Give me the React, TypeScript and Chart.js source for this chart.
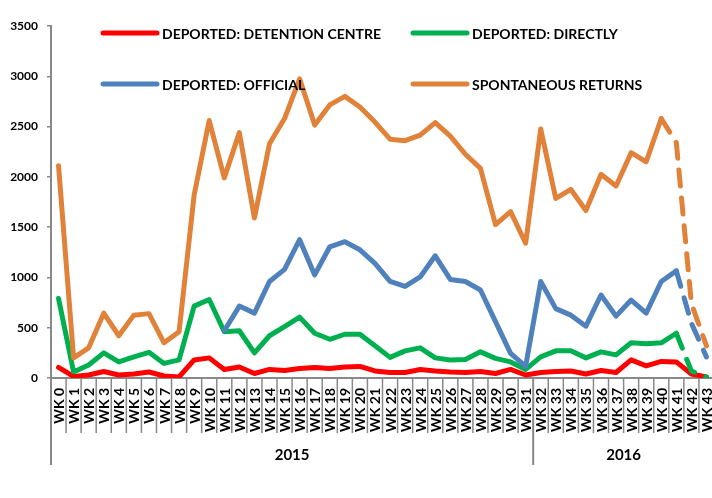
import React, { useEffect, useRef } from "react";
import { Chart, registerables } from "chart.js";

Chart.register(...registerables);

const weeks = [
  "WK 0", "WK 1", "WK 2", "WK 3", "WK 4", "WK 5", "WK 6", "WK 7", "WK 8", "WK 9",
  "WK 10", "WK 11", "WK 12", "WK 13", "WK 14", "WK 15", "WK 16", "WK 17", "WK 18", "WK 19",
  "WK 20", "WK 21", "WK 22", "WK 23", "WK 24", "WK 25", "WK 26", "WK 27", "WK 28", "WK 29",
  "WK 30", "WK 31", "WK 32", "WK 33", "WK 34", "WK 35", "WK 36", "WK 37", "WK 38", "WK 39",
  "WK 40", "WK 41", "WK 42", "WK 43",
];

const years = ["2015", "2016"];
const yearStarts = [0, 32];

const seriesNames = [
  "DEPORTED: DETENTION CENTRE",
  "DEPORTED: DIRECTLY",
  "DEPORTED: OFFICIAL",
  "SPONTANEOUS RETURNS",
];

const detentionCentre = [
  105, 15, 30, 65, 30, 40, 60, 20, 10, 180,
  200, 85, 110, 45, 85, 75, 95, 105, 95, 110,
  115, 70, 55, 55, 85, 70, 60, 55, 65, 45,
  85, 30, 55, 65, 70, 40, 75, 55, 180, 120,
  165, 160, 40, 10,
];

const directly = [
  790, 60, 130, 250, 160, 210, 255, 145, 180, 715,
  780, 460, 470, 250, 420, 510, 605, 445, 385, 435,
  435, 320, 205, 270, 300, 200, 180, 185, 260, 195,
  160, 85, 210, 270, 270, 200, 260, 230, 350, 340,
  350, 445, 70, 10,
];

const official = [
  null, null, null, null, null, null, null, null, null, null,
  null, 470, 715, 645, 960, 1080, 1375, 1025, 1305, 1355,
  1275, 1140, 960, 910, 1005, 1215, 980, 960, 875, 560,
  245, 115, 960, 690, 625, 515, 825, 615, 775, 645,
  960, 1065, 545, 210,
];

const spontaneous = [
  2110, 200, 300, 645, 420, 625, 640, 350, 460, 1820,
  2560, 1990, 2440, 1590, 2330, 2580, 2975, 2515, 2715, 2800,
  2695, 2545, 2375, 2360, 2415, 2540, 2405, 2225, 2085, 1525,
  1655, 1340, 2475, 1785, 1875, 1665, 2025, 1910, 2240, 2150,
  2580, 2340, 740, 320,
];

const yTicks = { min: 0, max: 3500, step: 500 };

const FONT = "Lato, 'Liberation Sans', sans-serif";
const AXIS = "#898989";
const COLORS = ["#FF0000", "#00B050", "#4F81BD", "#E0823A"];
const DASH = [16, 12];

const excelAxisPlugin = {
  id: "excelAxis",
  beforeDatasetsDraw(chart: any) {
    const { ctx, chartArea, scales } = chart;
    const x = scales.x;
    const bottom = chartArea.bottom;
    const step = x.getPixelForValue(1) - x.getPixelForValue(0);
    const edge = (i: number) => x.getPixelForValue(0) - step / 2 + i * step;
    ctx.save();
    ctx.strokeStyle = AXIS;
    ctx.lineWidth = 2;
    ctx.beginPath();
    ctx.moveTo(chartArea.left, bottom);
    ctx.lineTo(chartArea.right, bottom);
    ctx.stroke();
    for (let i = 0; i <= weeks.length; i++) {
      const px = edge(i);
      const isGroup = i === 0 || i === weeks.length || yearStarts.includes(i);
      ctx.lineWidth = isGroup ? 2 : 1.5;
      ctx.beginPath();
      ctx.moveTo(px, bottom);
      ctx.lineTo(px, bottom + (isGroup ? 87 : 55));
      ctx.stroke();
    }
    ctx.fillStyle = "#000";
    ctx.font = `bold 14px ${FONT}`;
    ctx.textAlign = "right";
    ctx.textBaseline = "middle";
    weeks.forEach((w, i) => {
      const px = x.getPixelForValue(i) + 1;
      ctx.save();
      ctx.translate(px, bottom + 10);
      ctx.rotate(-Math.PI / 2);
      ctx.fillText(w, 0, 0);
      ctx.restore();
    });
    ctx.font = `bold 15px ${FONT}`;
    ctx.textAlign = "center";
    years.forEach((yr, g) => {
      const s = yearStarts[g];
      const e = g + 1 < yearStarts.length ? yearStarts[g + 1] : weeks.length;
      const cx = (edge(s) + edge(e)) / 2;
      ctx.fillText(yr, cx, bottom + 77);
    });
    ctx.restore();
  },
  afterDatasetsDraw(chart: any) {
    const { ctx } = chart;
    const colX = [103, 413];
    const rowY = [33, 84];
    ctx.save();
    ctx.font = `bold 14px ${FONT}`;
    ctx.textAlign = "left";
    ctx.textBaseline = "middle";
    seriesNames.forEach((name, i) => {
      const lx = colX[i % 2];
      const ly = rowY[Math.floor(i / 2)];
      ctx.strokeStyle = COLORS[i];
      ctx.lineWidth = 5;
      ctx.lineCap = "round";
      ctx.beginPath();
      ctx.moveTo(lx, ly);
      ctx.lineTo(lx + 54, ly);
      ctx.stroke();
      ctx.fillStyle = "#000";
      ctx.fillText(name, lx + 59, ly + 1);
    });
    ctx.restore();
  },
};

function makeDataset(label: string, data: any[], color: string, dashFrom: number, order: number) {
  return {
    label,
    data,
    borderColor: color,
    backgroundColor: color,
    borderWidth: 5,
    borderJoinStyle: "round" as const,
    borderCapStyle: "round" as const,
    pointRadius: 0,
    tension: 0,
    fill: false,
    order,
    segment: {
      borderDash: (c: any) => (dashFrom >= 0 && c.p0DataIndex >= dashFrom ? DASH : undefined),
    },
  };
}

export default function App() {
  const ref = useRef<HTMLCanvasElement>(null);
  useEffect(() => {
    if (!ref.current) return;
    const chart = new Chart(ref.current, {
      type: "line",
      data: {
        labels: weeks,
        datasets: [
          makeDataset(seriesNames[0], detentionCentre, COLORS[0], -1, 3),
          makeDataset(seriesNames[1], directly, COLORS[1], 41, 2),
          makeDataset(seriesNames[2], official, COLORS[2], 41, 1),
          makeDataset(seriesNames[3], spontaneous, COLORS[3], 40, 0),
        ],
      },
      options: {
        responsive: false,
        animation: false,
        layout: { padding: { left: 0, top: 26, right: 6, bottom: 120 } },
        plugins: { legend: { display: false }, tooltip: { enabled: false } },
        scales: {
          x: { type: "category", display: false, offset: true },
          y: {
            min: yTicks.min,
            max: yTicks.max,
            ticks: {
              stepSize: yTicks.step,
              color: "#000",
              padding: 9,
              font: { family: FONT, size: 12, weight: "bold" },
              callback: (v: any) => String(v),
            },
            grid: { drawOnChartArea: false, drawTicks: true, tickLength: 4, color: AXIS, lineWidth: 1.5 },
            border: { display: true, color: AXIS, width: 2 },
            afterFit: (s: any) => {
              s.width = 51;
            },
          },
        },
      } as any,
      plugins: [excelAxisPlugin],
    });
    return () => chart.destroy();
  }, []);
  return (
    <div
      style={{
        position: "fixed",
        left: 0,
        top: 0,
        width: 712,
        height: 498,
        overflow: "hidden",
        background: "#fff",
      }}
    >
      <canvas ref={ref} width={720} height={498} style={{ display: "block" }} />
    </div>
  );
}
